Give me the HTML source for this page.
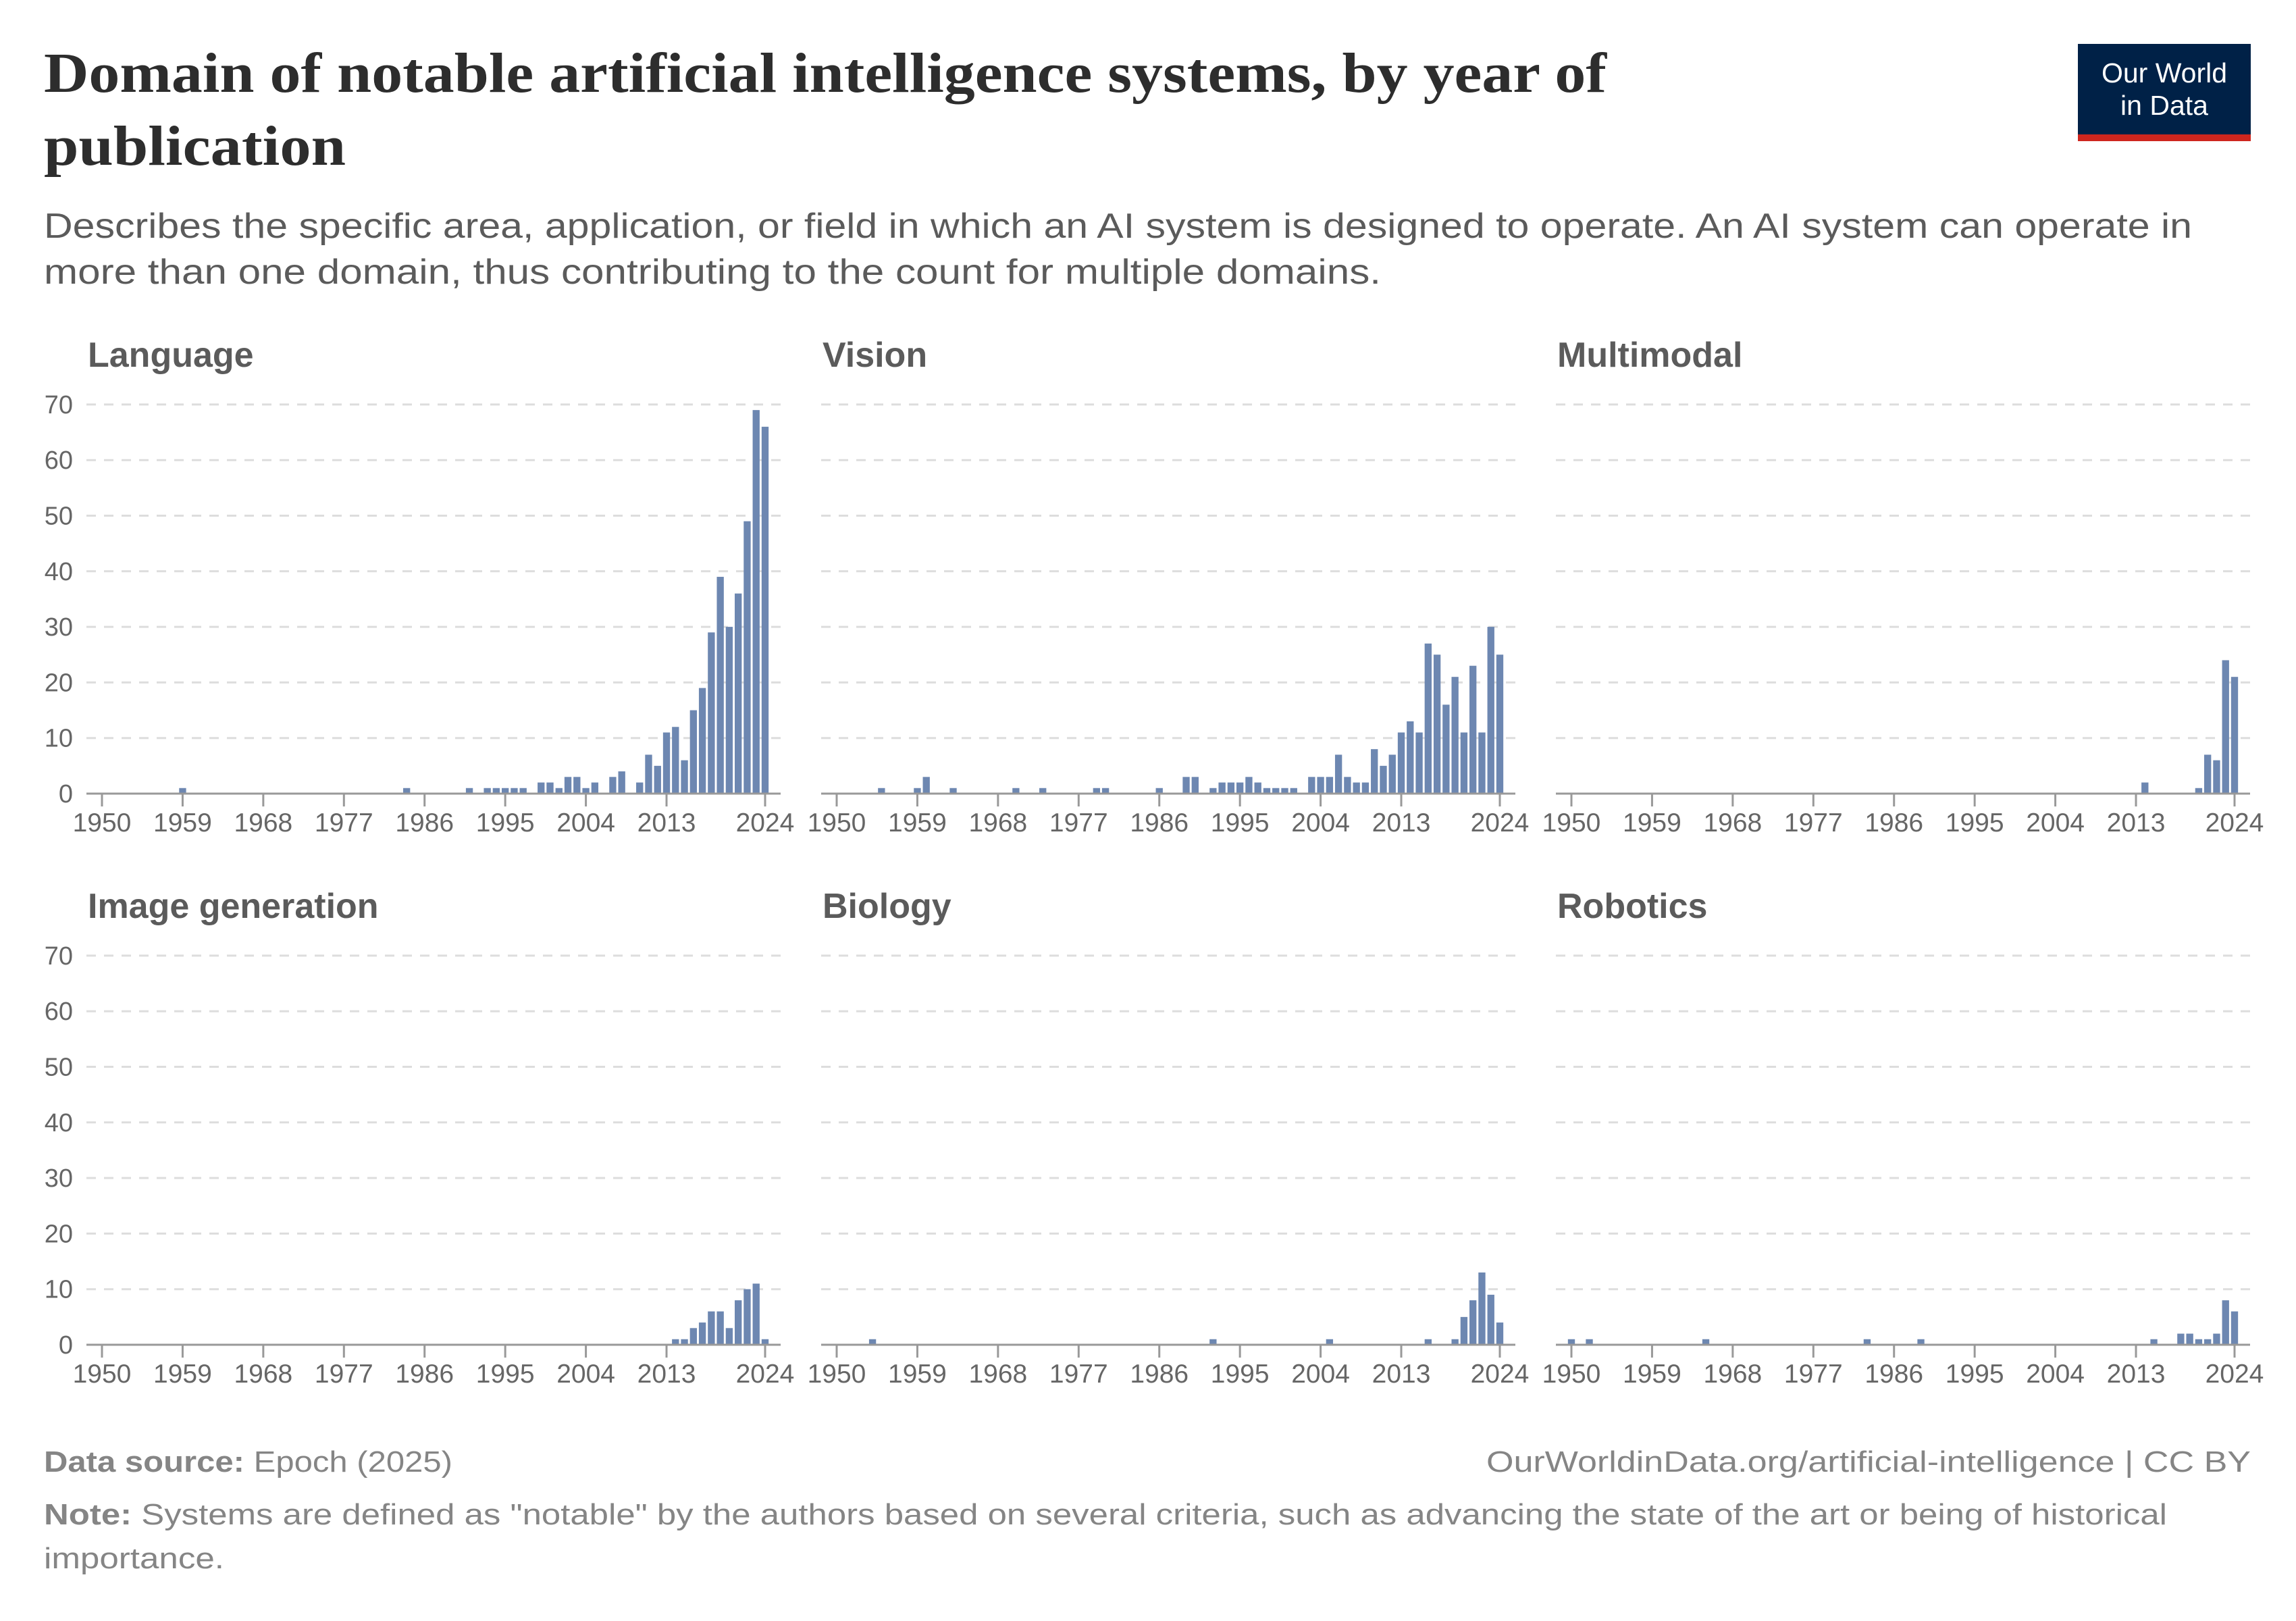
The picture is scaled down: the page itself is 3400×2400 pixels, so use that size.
<!DOCTYPE html>
<html><head><meta charset="utf-8"><style>
html,body{margin:0;padding:0;background:#fff;}
svg{display:block;}
</style></head><body>
<svg id="chart" width="3400" height="2400" viewBox="0 0 3400 2400" xmlns="http://www.w3.org/2000/svg">
<rect width="3400" height="2400" fill="#fff"/>
<text x="65" y="136" font-family="Liberation Serif, serif" font-weight="bold" font-size="84" fill="#2d2d2d" textLength="2314" lengthAdjust="spacingAndGlyphs">Domain of notable artificial intelligence systems, by year of</text>
<text x="65" y="244" font-family="Liberation Serif, serif" font-weight="bold" font-size="84" fill="#2d2d2d" textLength="447" lengthAdjust="spacingAndGlyphs">publication</text>
<text x="65" y="352" font-family="Liberation Sans, sans-serif" font-size="52" fill="#5b5b5b" textLength="3181" lengthAdjust="spacingAndGlyphs">Describes the specific area, application, or field in which an AI system is designed to operate. An AI system can operate in</text>
<text x="65" y="420" font-family="Liberation Sans, sans-serif" font-size="52" fill="#5b5b5b" textLength="1980" lengthAdjust="spacingAndGlyphs">more than one domain, thus contributing to the count for multiple domains.</text>
<g>
<rect x="3077" y="65" width="256" height="134" fill="#002147"/>
<rect x="3077" y="199" width="256" height="10" fill="#ce261e"/>
<text x="3205" y="122" text-anchor="middle" font-family="Liberation Sans, sans-serif" font-size="41" fill="#fff">Our World</text>
<text x="3205" y="170" text-anchor="middle" font-family="Liberation Sans, sans-serif" font-size="41" fill="#fff">in Data</text>
</g>
<g id="panels"></g>
<text x="65" y="2179" font-family="Liberation Sans, sans-serif" font-size="44" fill="#858585" textLength="605" lengthAdjust="spacingAndGlyphs"><tspan font-weight="bold">Data source:</tspan> Epoch (2025)</text>
<text x="2201" y="2179" font-family="Liberation Sans, sans-serif" font-size="44" fill="#858585" textLength="1132" lengthAdjust="spacingAndGlyphs">OurWorldinData.org/artificial-intelligence | CC BY</text>
<text x="65" y="2257" font-family="Liberation Sans, sans-serif" font-size="44" fill="#858585" textLength="3144" lengthAdjust="spacingAndGlyphs"><tspan font-weight="bold">Note:</tspan> Systems are defined as "notable" by the authors based on several criteria, such as advancing the state of the art or being of historical</text>
<text x="65" y="2322" font-family="Liberation Sans, sans-serif" font-size="44" fill="#858585" textLength="267" lengthAdjust="spacingAndGlyphs">importance.</text>
</svg>
<script>
const panelNames = ["Language","Vision","Multimodal","Image generation","Biology","Robotics"];
const yTicks = [0,10,20,30,40,50,60,70];
const xTicks = [1950,1959,1968,1977,1986,1995,2004,2013,2024];
const languageYears = [1959,1984,1991,1993,1994,1995,1996,1997,1999,2000,2001,2002,2003,2004,2005,2007,2008,2010,2011,2012,2013,2014,2015,2016,2017,2018,2019,2020,2021,2022,2023,2024];
const languageValues = [1,1,1,1,1,1,1,1,2,2,1,3,3,1,2,3,4,2,7,5,11,12,6,15,19,29,39,30,36,49,69,66];
const visionYears = [1955,1959,1960,1963,1970,1973,1979,1980,1986,1989,1990,1992,1993,1994,1995,1996,1997,1998,1999,2000,2001,2003,2004,2005,2006,2007,2008,2009,2010,2011,2012,2013,2014,2015,2016,2017,2018,2019,2020,2021,2022,2023,2024];
const visionValues = [1,1,3,1,1,1,1,1,1,3,3,1,2,2,2,3,2,1,1,1,1,3,3,3,7,3,2,2,8,5,7,11,13,11,27,25,16,21,11,23,11,30,25];
const multimodalYears = [2014,2020,2021,2022,2023,2024];
const multimodalValues = [2,1,7,6,24,21];
const imageGenYears = [2014,2015,2016,2017,2018,2019,2020,2021,2022,2023,2024];
const imageGenValues = [1,1,3,4,6,6,3,8,10,11,1];
const biologyYears = [1954,1992,2005,2016,2019,2020,2021,2022,2023,2024];
const biologyValues = [1,1,1,1,1,5,8,13,9,4];
const roboticsYears = [1950,1952,1965,1983,1989,2015,2018,2019,2020,2021,2022,2023,2024];
const roboticsValues = [1,1,1,1,1,1,2,2,1,1,2,8,6];

const seriesYears = [languageYears,visionYears,multimodalYears,imageGenYears,biologyYears,roboticsYears];
const seriesValues = [languageValues,visionValues,multimodalValues,imageGenValues,biologyValues,roboticsValues];

const NS = "http://www.w3.org/2000/svg";
const colX = [151,1239,2327];
const rowY = [1175,1991];
const plotW = 982, unitH = 8.23;
const root = document.getElementById("panels");
function mk(tag, attrs, parent){const e=document.createElementNS(NS,tag);for(const k in attrs)e.setAttribute(k,attrs[k]);parent.appendChild(e);return e;}

panelNames.forEach((name,i)=>{
  const cx = colX[i%3], y0 = rowY[Math.floor(i/3)];
  const xs = yr => cx + (yr-1950)/(2024-1950)*plotW;
  const ys = v => y0 - v*unitH;
  const g = mk("g",{},root);
  
  
  const t = mk("text",{x:cx-21,y:y0-632,"font-family":"Liberation Sans, sans-serif","font-size":52,"font-weight":"bold",fill:"#5b5b5b"},g);
  
  
  t.textContent = name;
  yTicks.forEach(v=>{
    if(v>0){
      const l = mk("line",{x1:cx-23,x2:cx+1005,y1:ys(v),y2:ys(v),stroke:"#dddddd","stroke-width":3,"stroke-dasharray":"14,12"},g);
      
      
    }
    if(i%3===0){
      const lab = mk("text",{x:108,y:ys(v)+13,"text-anchor":"end","font-family":"Liberation Sans, sans-serif","font-size":38,fill:"#666"},g);
      
      
      lab.textContent = v;
    }
  });
  const yrs = seriesYears[i], vals = seriesValues[i];
  const bw = plotW/74*0.78;
  yrs.forEach((yr,j)=>{
    const h = vals[j]*unitH;
    const b = mk("rect",{x:xs(yr)-bw/2,y:y0-h,width:bw,height:h,fill:"#6d87b1"},g);
    
    
  });
  const ax = mk("line",{x1:cx-23,x2:cx+1005,y1:y0,y2:y0,stroke:"#999","stroke-width":3},g);
  
  
  xTicks.forEach(yr=>{
    const tk = mk("line",{x1:xs(yr),x2:xs(yr),y1:y0,y2:y0+19,stroke:"#999","stroke-width":3},g);
    
    
    const lab = mk("text",{x:xs(yr),y:y0+56,"text-anchor":"middle","font-family":"Liberation Sans, sans-serif","font-size":39,fill:"#666"},g);
    
    
    lab.textContent = yr;
  });
});
</script>
</body></html>
